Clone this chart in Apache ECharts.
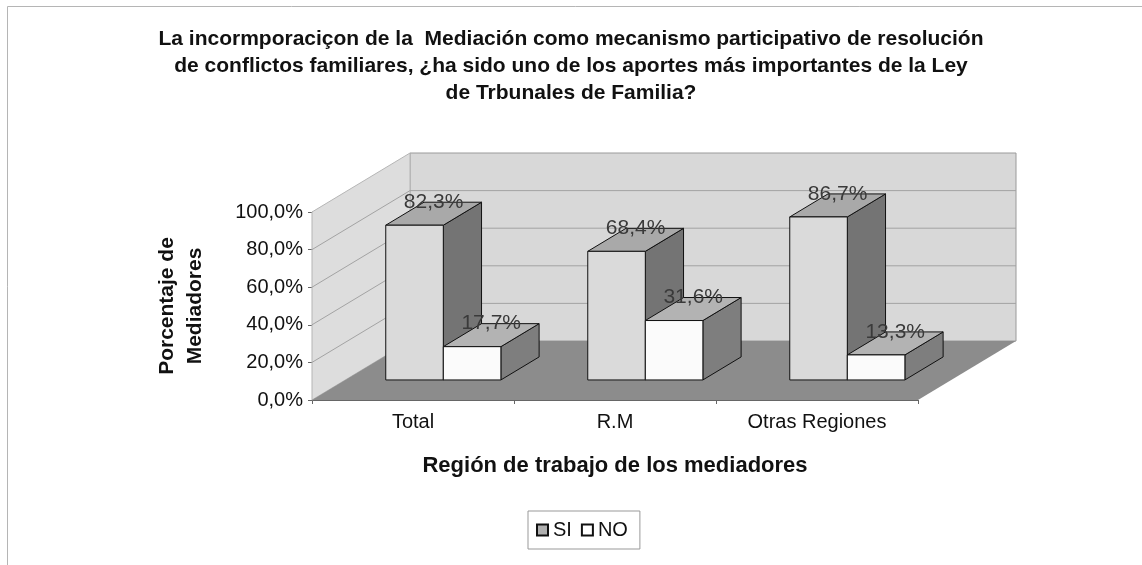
<!DOCTYPE html>
<html>
<head>
<meta charset="utf-8">
<script src="https://cdn.jsdelivr.net/npm/echarts@6/dist/echarts.min.js"></script>
<style>
html, body { margin: 0; padding: 0; background: #fff; }
#chart { width: 1142px; height: 565px; }
</style>
</head>
<body>
<div id="chart"></div>
<script>
// datos
const categories = ['Total', 'R.M', 'Otras Regiones']
const siValues = [82.3, 68.4, 86.7]
const noValues = [17.7, 31.6, 13.3]
const yTicks = [0, 20, 40, 60, 80, 100]

// efecto 3D (desplazamiento del fondo)
const depth = [98, -59]
const barFront = 0.34
const barBack = 0.73
const font = 'Liberation Sans, Arial, sans-serif'

const pct = v => v.toFixed(1).replace('.', ',') + '%'

//paredes y piso
function renderWalls(params, api) {
    const cs = params.coordSys
    const x0 = cs.x, x1 = cs.x + cs.width
    const yTop = cs.y, yBot = cs.y + cs.height
    const [dx, dy] = depth
    const children = []
    children.push({
        type: 'polygon',
        shape: { points: [[x0 + dx, yTop + dy], [x1 + dx, yTop + dy], [x1 + dx, yBot + dy], [x0 + dx, yBot + dy]] },
        style: { fill: '#d8d8d8', stroke: '#9a9a9a', lineWidth: 1 }
    })
    children.push({
        type: 'polygon',
        shape: { points: [[x0, yTop], [x0 + dx, yTop + dy], [x0 + dx, yBot + dy], [x0, yBot]] },
        style: { fill: '#dddddd', stroke: '#b5b5b5', lineWidth: 1 }
    })
    yTicks.slice(1, -1).forEach(v => {
        const y = api.coord([0, v])[1]
        children.push({
            type: 'polyline',
            shape: { points: [[x0, y], [x0 + dx, y + dy], [x1 + dx, y + dy]] },
            style: { stroke: '#a3a3a3', lineWidth: 1, fill: null }
        })
    })
    children.push({
        type: 'polygon',
        shape: { points: [[x0, yBot], [x1, yBot], [x1 + dx, yBot + dy], [x0 + dx, yBot + dy]] },
        style: { fill: '#8c8c8c' }
    })
    return { type: 'group', children }
}

//barras 3D
function barRenderer(side, colors) {
    return function (params, api) {
        const i = api.value(0), v = api.value(1)
        const base = api.coord([i, 0])
        const top = api.coord([i, v])
        const band = api.size([1, 0])[0]
        const w = band * 0.285
        const [dx, dy] = depth
        const fx = dx * barFront, fy = dy * barFront
        const bx = dx * (barBack - barFront), by = dy * (barBack - barFront)
        const left = base[0] + fx - 3 + (side === 0 ? -w : 0)
        const right = left + w
        const yb = base[1] + fy, yt = top[1] + fy
        const line = { stroke: '#111', lineWidth: 1 }
        return {
            type: 'group',
            children: [
                {
                    type: 'polygon',
                    shape: { points: [[right, yt], [right + bx, yt + by], [right + bx, yb + by], [right, yb]] },
                    style: Object.assign({ fill: colors[2] }, line)
                },
                {
                    type: 'polygon',
                    shape: { points: [[left, yt], [right, yt], [right + bx, yt + by], [left + bx, yt + by]] },
                    style: Object.assign({ fill: colors[1] }, line)
                },
                {
                    type: 'rect',
                    shape: { x: left, y: yt, width: w, height: yb - yt },
                    style: Object.assign({ fill: colors[0] }, line)
                },
                {
                    type: 'text',
                    style: {
                        x: left + w / 2 + bx / 2,
                        y: yt + by,
                        text: pct(v),
                        align: 'center',
                        verticalAlign: 'middle',
                        fontSize: 21,
                        fontFamily: font,
                        fill: '#3a3a3a'
                    }
                }
            ]
        }
    }
}

const myChart = echarts.init(document.querySelector('#chart'))
const option = {
    animation: false,
    title: {
        text: 'La incormporaciçon de la  Mediación como mecanismo participativo de resolución\nde conflictos familiares, ¿ha sido uno de los aportes más importantes de la Ley\nde Trbunales de Familia?',
        left: 'center',
        top: 26,
        padding: 0,
        textStyle: {
            fontFamily: font,
            fontSize: 21,
            fontWeight: 'bold',
            lineHeight: 27,
            color: '#111'
        }
    },
    legend: {
        data: ['SI', 'NO'],
        left: 528,
        top: 511,
        padding: [9, 12, 9, 8],
        itemWidth: 11,
        itemHeight: 11,
        itemGap: 9,
        icon: 'rect',
        borderColor: '#999',
        borderWidth: 1,
        borderRadius: 0,
        textStyle: { fontFamily: font, fontSize: 20, color: '#111' }
    },
    graphic: [{
        type: 'rect',
        z: -10,
        shape: { x: 7.5, y: 6.5, width: 1200, height: 600 },
        style: { fill: null, stroke: '#b5b5b5', lineWidth: 1 }
    }],
    grid: {
        left: 312,
        right: 224,
        top: 212,
        bottom: 165
    },
    xAxis: {
        type: 'category',
        data: categories,
        axisLine: { lineStyle: { color: '#666', width: 1 } },
        axisTick: { show: true, length: 4, lineStyle: { color: '#666' } },
        axisLabel: { fontFamily: font, fontSize: 20, color: '#111', margin: 12 },
        name: 'Región de trabajo de los mediadores',
        nameLocation: 'middle',
        nameGap: 55,
        nameTextStyle: { fontFamily: font, fontSize: 22, fontWeight: 'bold', color: '#111' }
    },
    yAxis: {
        type: 'value',
        min: 0,
        max: 100,
        interval: 20,
        axisLine: { show: true, lineStyle: { color: '#888' } },
        axisTick: { show: true, length: 4, lineStyle: { color: '#666' } },
        splitLine: { show: false },
        axisLabel: { fontFamily: font, fontSize: 20, color: '#111', margin: 9, formatter: pct },
        name: 'Porcentaje de\nMediadores',
        nameLocation: 'middle',
        nameRotate: 90,
        nameGap: 103,
        nameTextStyle: { fontFamily: font, fontSize: 21, fontWeight: 'bold', color: '#111', lineHeight: 28 }
    },
    series: [
        {
            type: 'custom',
            name: 'walls',
            clip: false,
            silent: true,
            z: 1,
            renderItem: renderWalls,
            data: [[0, 0]]
        },
        {
            type: 'custom',
            name: 'SI',
            clip: false,
            z: 2,
            itemStyle: { color: '#b0b0b0', borderColor: '#111', borderWidth: 1 },
            renderItem: barRenderer(0, ['#dadada', '#a9a9a9', '#747474']),
            data: siValues.map((v, i) => [i, v])
        },
        {
            type: 'custom',
            name: 'NO',
            clip: false,
            z: 3,
            itemStyle: { color: '#ffffff', borderColor: '#111', borderWidth: 1 },
            renderItem: barRenderer(1, ['#fbfbfb', '#b3b3b3', '#7e7e7e']),
            data: noValues.map((v, i) => [i, v])
        }
    ]
}
myChart.setOption(option)
window.addEventListener('resize', function () {
    myChart.resize()
})
</script>
</body>
</html>
